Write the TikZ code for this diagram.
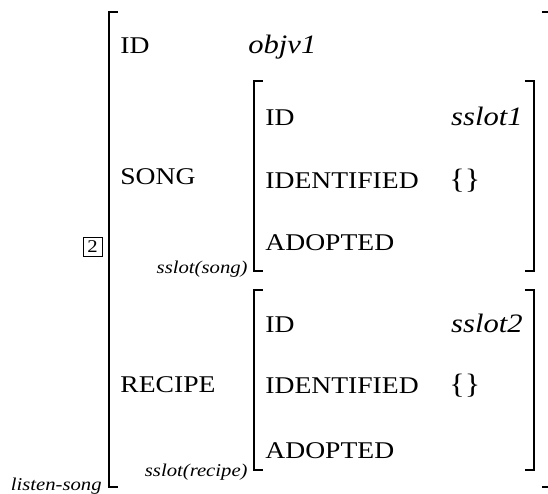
\documentclass[tikz,border=0pt]{standalone}
\usepackage{fontspec}
\setmainfont{Liberation Serif}[FakeStretch=1.15]
\tikzset{
  feat/.style={anchor=base west,inner sep=0pt,font=\fontsize{12}{14}\selectfont},
  fval/.style={inner sep=0pt,font=\fontsize{13.3}{15}\selectfont\itshape},
  fset/.style={anchor=west,inner sep=0pt,font=\fontsize{14}{16}\selectfont},
  ftag/.style={anchor=base east,inner sep=0pt,font=\fontsize{9}{11}\selectfont\itshape},
  brk/.style={line width=0.9pt}
}
\begin{document}
\begin{tikzpicture}[x=0.5pt,y=-0.5pt]
			\useasboundingbox (0,0) rectangle (548,494);
			% outer matrix
			\draw[brk] (118,12) -- (109,12) -- (109,487) -- (118,487);
			\draw[brk] (542,12) -- (551,12) -- (551,487) -- (542,487);
			\node[draw,inner sep=0pt,minimum size=9.5pt,font=\fontsize{9}{11}\selectfont] (tag2) at (92.5,246.5) {2};
			\node[ftag] (listen) at (102,490) {listen-song};
			\node[feat] (id0) at (120,53) {ID};
			\node[fval,anchor=base west] (objv) at (248,53) {objv1};
			\node[feat] (song) at (120,184) {SONG};
			\node[feat] (recipe) at (120,392) {RECIPE};
			% inner matrices
			\foreach \t/\b in {81/271,290/470}
			{
			\draw[brk] (263,\t) -- (254,\t) -- (254,\b) -- (263,\b);
			\draw[brk] (525,\t) -- (534,\t) -- (534,\b) -- (525,\b);
			}
			\node[ftag] (sslotsong) at (248,273) {sslot(song)};
			\node[feat] (id1) at (265,125) {ID};
			\node[fval,anchor=base east] (sslot1) at (523,125) {sslot1};
			\node[feat] (ident1) at (265,188) {IDENTIFIED};
			\node[fset] (set1) at (449,181) {\{\}};
			\node[feat] (adopt1) at (265,250) {ADOPTED};
			\node[ftag] (sslotrecipe) at (248,476) {sslot(recipe)};
			\node[feat] (id2) at (265,332) {ID};
			\node[fval,anchor=base east] (sslot2) at (523,332) {sslot2};
			\node[feat] (ident2) at (265,393) {IDENTIFIED};
			\node[fset] (set2) at (449,386) {\{\}};
			\node[feat] (adopt2) at (265,458) {ADOPTED};
		\end{tikzpicture}
\end{document}
